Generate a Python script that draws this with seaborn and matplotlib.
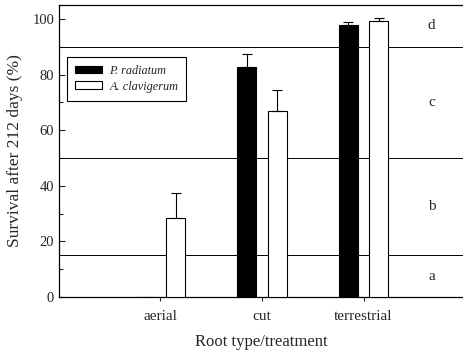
import matplotlib
matplotlib.use("Agg")
import matplotlib.pyplot as plt
import seaborn as sns
import pandas as pd
import numpy as np

categories = ["aerial", "cut", "terrestrial"]
species = ["P. radiatum", "A. clavigerum"]
p_radiatum = [0.0, 82.6, 97.9]
p_radiatum_err = [0.0, 4.8, 1.1]
a_clavigerum = [28.3, 66.9, 99.3]
a_clavigerum_err = [9.1, 7.5, 1.0]
zone_lines = [15, 50, 90]
zone_labels = ["a", "b", "c", "d"]
zone_label_y = [7.5, 32.5, 70, 97.5]

sns.set_style("ticks")
plt.rcParams["font.family"] = ["Liberation Serif", "DejaVu Serif"]

df = pd.DataFrame({
    "treatment": categories * 2,
    "species": [species[0]] * 3 + [species[1]] * 3,
    "survival": p_radiatum + a_clavigerum,
})
errs = {species[0]: p_radiatum_err, species[1]: a_clavigerum_err}

fig = plt.figure(figsize=(4.63, 3.56), dpi=100)
ax = fig.add_axes([0.1274, 0.1657, 0.8726, 0.8203])

sns.barplot(data=df, x="treatment", y="survival", hue="species",
            order=categories, hue_order=species,
            palette={species[0]: "black", species[1]: "white"},
            edgecolor="black", linewidth=0.8, width=0.6, gap=0.37,
            errorbar=None, ax=ax, zorder=3)

for cont, sp in zip(ax.containers, species):
    for patch, e in zip(cont.patches, errs[sp]):
        if e > 0:
            xc = patch.get_x() + patch.get_width() / 2
            h = patch.get_height()
            ax.errorbar([xc], [h], yerr=[[0], [e]], fmt="none", ecolor="black",
                        elinewidth=0.8, capsize=3.5, capthick=0.8, zorder=4)

for y in zone_lines:
    ax.axhline(y, color="black", lw=0.7, zorder=1)

for lab, y in zip(zone_labels, zone_label_y):
    ax.text(2.67, y, lab, ha="center", va="center", fontsize=11)

ax.set_xlim(-1.0, 2.98)
ax.set_ylim(0, 105)
ax.set_yticks([0, 20, 40, 60, 80, 100])
ax.set_yticks([10, 30, 50, 70, 90], minor=True)
ax.tick_params(axis="y", which="both", direction="in", length=4, width=0.8, labelsize=10.5)
ax.tick_params(axis="y", which="minor", length=3)
ax.tick_params(axis="x", direction="out", length=3, width=0.8, labelsize=11, pad=6)

ax.set_xlabel("Root type/treatment", fontsize=12, labelpad=8)
ax.set_ylabel("Survival after 212 days (%)", fontsize=12.5, labelpad=7)

for s in ["left", "bottom", "top"]:
    ax.spines[s].set_visible(True)
    ax.spines[s].set_linewidth(0.9)
    ax.spines[s].set_color("black")
ax.spines["right"].set_visible(False)

leg = ax.legend(loc="upper left", bbox_to_anchor=(0.02, 0.822), frameon=True,
                fancybox=False, edgecolor="black", framealpha=1,
                prop={"style": "italic", "size": 8.8},
                handlelength=2.2, handleheight=0.6, borderpad=0.65,
                handletextpad=0.6, labelspacing=0.3, borderaxespad=0)
leg.get_frame().set_linewidth(0.8)

fig.savefig("out.png", dpi=100)
